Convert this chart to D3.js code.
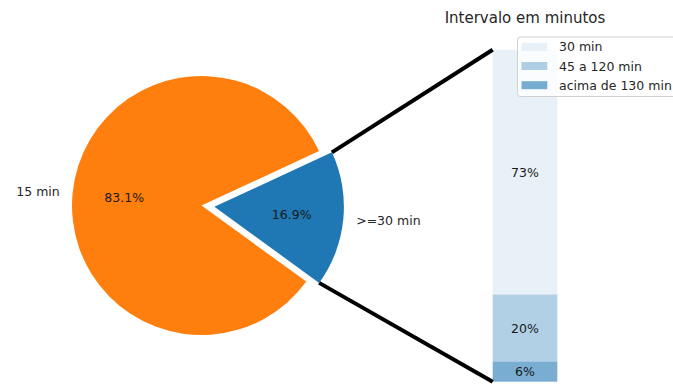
<!DOCTYPE html>
<html>
<head>
<meta charset="utf-8">
<script src="https://cdn.jsdelivr.net/npm/d3@7"></script>
<style>
  html, body { margin: 0; padding: 0; background: #fff; }
  svg { display: block; font-family: "DejaVu Sans", sans-serif; }
</style>
</head>
<body>
<svg id="chart" width="673" height="387"></svg>
<script>
// Pie: share of intervals
const pieLabels = [">=30 min", "15 min"];
const pieValues = [0.169, 0.831];
const pieColors = ["#1f77b4", "#ff7f0e"];

// Stacked bar: breakdown of the ">=30 min" slice
const barLabels = ["30 min", "45 a 120 min", "acima de 130 min"];
const barValues = [0.73, 0.20, 0.06];
const barAlphas = [0.1, 0.35, 0.6];

const title = "Intervalo em minutos";

const W = 673, H = 387;
const svg = d3.select("#chart");

// ---- pie ----
const cx = 201.5, cy = 205.5, R = 129.5;
const explode = [0.1, 0];
const deg = Math.PI / 180;
// first wedge starts 36° below the +x axis and runs counter-clockwise
const start = (90 + 36) * deg;
const pie = d3.pie().sort(null).value(d => d)
  .startAngle(start).endAngle(start - 2 * Math.PI);
const arcs = pie(pieValues);
const arc = d3.arc().innerRadius(0).outerRadius(R);

const gPie = svg.append("g").attr("transform", `translate(${cx},${cy})`);
const centers = arcs.map((a, i) => {
  const mid = (a.startAngle + a.endAngle) / 2;
  const off = explode[i] * R;
  return { mid, x: Math.sin(mid) * off, y: -Math.cos(mid) * off };
});

gPie.selectAll("path.wedge").data(arcs).join("path")
  .attr("class", "wedge")
  .attr("transform", (d, i) => `translate(${centers[i].x},${centers[i].y})`)
  .attr("d", arc)
  .attr("fill", (d, i) => pieColors[i]);

// category labels at 1.1 R, percentages at 0.6 R
gPie.selectAll("text.lab").data(arcs).join("text")
  .attr("class", "lab")
  .attr("x", (d, i) => centers[i].x + Math.sin(centers[i].mid) * R * 1.1)
  .attr("y", (d, i) => centers[i].y - Math.cos(centers[i].mid) * R * 1.1)
  .attr("text-anchor", (d, i) => Math.sin(centers[i].mid) >= 0 ? "start" : "end")
  .attr("dominant-baseline", "central")
  .attr("font-size", 12.5).attr("fill", "#262626")
  .text((d, i) => pieLabels[i]);

gPie.selectAll("text.pct").data(arcs).join("text")
  .attr("class", "pct")
  .attr("x", (d, i) => centers[i].x + Math.sin(centers[i].mid) * R * 0.6)
  .attr("y", (d, i) => centers[i].y - Math.cos(centers[i].mid) * R * 0.6)
  .attr("text-anchor", "middle")
  .attr("dominant-baseline", "central")
  .attr("font-size", 12.5).attr("fill", "#1a1a1a")
  .text(d => (d.value * 100).toFixed(1) + "%");

// ---- stacked bar ----
const total = d3.sum(barValues);
const x = d3.scaleLinear().domain([-0.25, 0.25]).range([444.2, 605.8]);
const y = d3.scaleLinear().domain([0, total]).range([381.7, 49.8]);
const barW = 0.2;

// stack from the top down: first category sits on top
const segs = barValues.map((v, i) => {
  const bottom = d3.sum(barValues.slice(i + 1));
  return { label: barLabels[i], value: v, bottom, top: bottom + v, alpha: barAlphas[i] };
});

const gBar = svg.append("g");
gBar.selectAll("rect").data(segs).join("rect")
  .attr("x", x(-barW / 2))
  .attr("width", x(barW / 2) - x(-barW / 2))
  .attr("y", d => y(d.top))
  .attr("height", d => y(d.bottom) - y(d.top))
  .attr("fill", "#1f77b4")
  .attr("fill-opacity", d => d.alpha);

gBar.selectAll("text").data(segs).join("text")
  .attr("x", x(0))
  .attr("y", d => y(d.bottom + d.value / 2))
  .attr("text-anchor", "middle")
  .attr("dominant-baseline", "central")
  .attr("font-size", 12.5).attr("fill", "#1a1a1a")
  .text(d => Math.round(d.value * 100) + "%");

svg.append("text")
  .attr("x", x(0)).attr("y", 23)
  .attr("text-anchor", "middle")
  .attr("font-size", 15).attr("fill", "#262626")
  .text(title);

// ---- connectors from the exploded wedge edges to the bar corners ----
const w0 = arcs[0], c0 = centers[0];
const edgePt = a => [cx + c0.x + Math.sin(a) * R, cy + c0.y - Math.cos(a) * R];
const topEdge = edgePt(Math.min(w0.startAngle, w0.endAngle));
const botEdge = edgePt(Math.max(w0.startAngle, w0.endAngle));
const connectors = [
  [topEdge, [x(-barW / 2), y(total)]],
  [botEdge, [x(-barW / 2), y(0)]]
];
svg.selectAll("line.conn").data(connectors).join("line")
  .attr("class", "conn")
  .attr("x1", d => d[0][0]).attr("y1", d => d[0][1])
  .attr("x2", d => d[1][0]).attr("y2", d => d[1][1])
  .attr("stroke", "#000").attr("stroke-width", 4);

// ---- legend ----
const lg = svg.append("g").attr("transform", "translate(517.5,37)");
lg.append("rect")
  .attr("x", 0).attr("y", 0).attr("width", 190).attr("height", 59.5)
  .attr("rx", 3)
  .attr("fill", "#fff").attr("fill-opacity", 0.8)
  .attr("stroke", "#d0d0d0").attr("stroke-width", 1);
const rows = lg.selectAll("g.row").data(segs).join("g")
  .attr("class", "row")
  .attr("transform", (d, i) => `translate(0,${9.8 + i * 19.2})`);
rows.append("rect")
  .attr("x", 4).attr("y", -4).attr("width", 25.8).attr("height", 8)
  .attr("fill", "#1f77b4").attr("fill-opacity", d => d.alpha);
rows.append("text")
  .attr("x", 41.5).attr("y", 0)
  .attr("dominant-baseline", "central")
  .attr("font-size", 12.5).attr("fill", "#262626")
  .text(d => d.label);
</script>
</body>
</html>
